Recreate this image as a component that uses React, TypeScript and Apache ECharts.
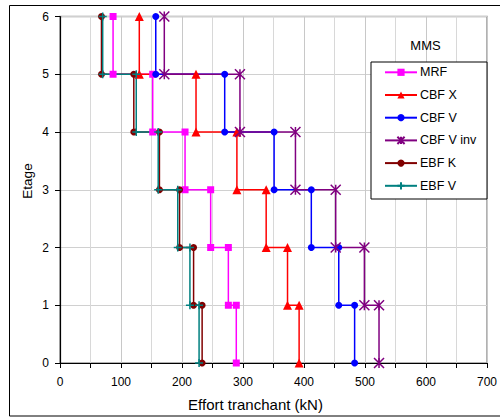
import React, { useEffect, useRef } from "react";
import * as echarts from "echarts";

const levels = [0, 1, 2, 3, 4, 5, 6];
const seriesNames = ["MRF", "CBF X", "CBF V", "CBF V inv", "EBF K", "EBF V"];
// Shear per storey, from storey 0-1 up to storey 5-6 (kN)
const mrf = [289, 276, 247, 205, 152, 87];
const cbfX = [392, 373, 338, 290, 223, 130];
const cbfV = [483, 457, 412, 351, 270, 157];
const cbfVinv = [523, 499, 452, 386, 295, 171];
const ebfK = [233, 219, 196, 163, 121, 68];
const ebfV = [228, 213, 193, 161, 125, 70];
const xTicks = [0, 100, 200, 300, 400, 500, 600, 700];

const FONT = "'Liberation Sans', Arial, Helvetica, sans-serif";

function steps(v: number[]): number[][] {
  const pts: number[][] = [];
  v.forEach((x, i) => {
    pts.push([x, levels[i]]);
    pts.push([x, levels[i + 1]]);
  });
  return pts;
}

const STAR = "path://M0 0L10 10M10 0L0 10M5 0L5 10";
const PLUS = "path://M0 5L10 5M5 0L5 10";

export default function App() {
  const ref = useRef<HTMLDivElement>(null);
  useEffect(() => {
    if (!ref.current) return;
    const chart = echarts.init(ref.current, undefined, { renderer: "svg" });
    const defs = [
      { data: mrf, color: "#FF00FF", symbol: "rect", size: 7, stroke: false },
      { data: cbfX, color: "#FF0000", symbol: "triangle", size: 9, stroke: false },
      { data: cbfV, color: "#0000FF", symbol: "circle", size: 7, stroke: false },
      { data: cbfVinv, color: "#800080", symbol: STAR, size: 10, stroke: true },
      { data: ebfK, color: "#800000", symbol: "circle", size: 7, stroke: false },
      { data: ebfV, color: "#008080", symbol: PLUS, size: 8, stroke: true },
    ];
    const series = defs.map((d, i) => ({
      type: "line",
      name: seriesNames[i],
      data: steps(d.data),
      symbol: d.symbol,
      symbolSize: d.size,
      showAllSymbol: true,
      lineStyle: { color: d.color, width: 1.5 },
      itemStyle: d.stroke
        ? { color: d.color, borderColor: d.color, borderWidth: 1.5 }
        : { color: d.color, borderWidth: 0 },
      emphasis: { disabled: true },
    }));
    chart.setOption({
      animation: false,
      textStyle: { fontFamily: FONT },
      grid: {
        left: 60,
        top: 16.5,
        right: 10.7,
        bottom: 55,
        show: true,
        borderColor: "#999999",
        borderWidth: 1.5,
        backgroundColor: "transparent",
      },
      xAxis: {
        type: "value",
        min: 0,
        max: 700,
        interval: 100,
        axisLine: { show: true, lineStyle: { color: "#000", width: 1.2 } },
        axisTick: { show: true, length: 5, lineStyle: { color: "#000" } },
        minorTick: { show: true, splitNumber: 2, length: 5, lineStyle: { color: "#000" } },
        splitLine: { show: true, lineStyle: { color: "#c8c8c8", width: 1 } },
        minorSplitLine: { show: true, lineStyle: { color: "#d8d8d8", width: 1 } },
        axisLabel: {
          color: "#000",
          fontSize: 12,
          margin: 13,
          fontFamily: FONT,
          formatter: (v: number) => (xTicks.includes(v) ? String(v) : ""),
        },
      },
      yAxis: {
        type: "value",
        min: 0,
        max: 6,
        interval: 1,
        axisLine: { show: true, lineStyle: { color: "#000", width: 1.2 } },
        axisTick: { show: true, length: 5, lineStyle: { color: "#000" } },
        splitLine: { show: true, lineStyle: { color: "#d0d0d0", width: 1 } },
        axisLabel: { color: "#000", fontSize: 12, margin: 11, fontFamily: FONT },
      },
      legend: {
        orient: "vertical",
        left: 384,
        top: 65.3,
        padding: 0,
        itemWidth: 32,
        itemHeight: 9,
        itemGap: 8.7,
        data: seriesNames,
        textStyle: { color: "#000", fontSize: 12.5, lineHeight: 14, fontFamily: FONT, padding: [0, 0, 0, -2] },
        selectedMode: false,
        z: 10,
      },
      graphic: [
        {
          type: "rect",
          z: 5,
          shape: { x: 9.5, y: 5.5, width: 500, height: 410.5 },
          style: { fill: "none", stroke: "#000", lineWidth: 1 },
        },
        {
          type: "rect",
          z: 5,
          shape: { x: 371, y: 62, width: 116, height: 137 },
          style: { fill: "#fff", stroke: "#000", lineWidth: 1 },
        },
        {
          type: "text",
          z: 6,
          x: 425.5,
          y: 45,
          style: {
            text: "MMS",
            fontSize: 13,
            fontFamily: FONT,
            fill: "#000",
            textAlign: "center",
            textVerticalAlign: "middle",
          },
        },
        {
          type: "text",
          z: 6,
          x: 255.5,
          y: 404,
          style: {
            text: "Effort tranchant (kN)",
            fontSize: 15,
            fontFamily: FONT,
            fill: "#000",
            textAlign: "center",
            textVerticalAlign: "middle",
          },
        },
        {
          type: "text",
          z: 6,
          x: 27,
          y: 181,
          rotation: Math.PI / 2,
          style: {
            text: "Etage",
            fontSize: 13.5,
            fontFamily: FONT,
            fill: "#000",
            textAlign: "center",
            textVerticalAlign: "middle",
          },
        },
      ],
      series,
    });
    return () => chart.dispose();
  }, []);
  return (
    <div
      ref={ref}
      style={{ position: "fixed", left: 0, top: 0, width: 500, height: 418, background: "#fff" }}
    />
  );
}
